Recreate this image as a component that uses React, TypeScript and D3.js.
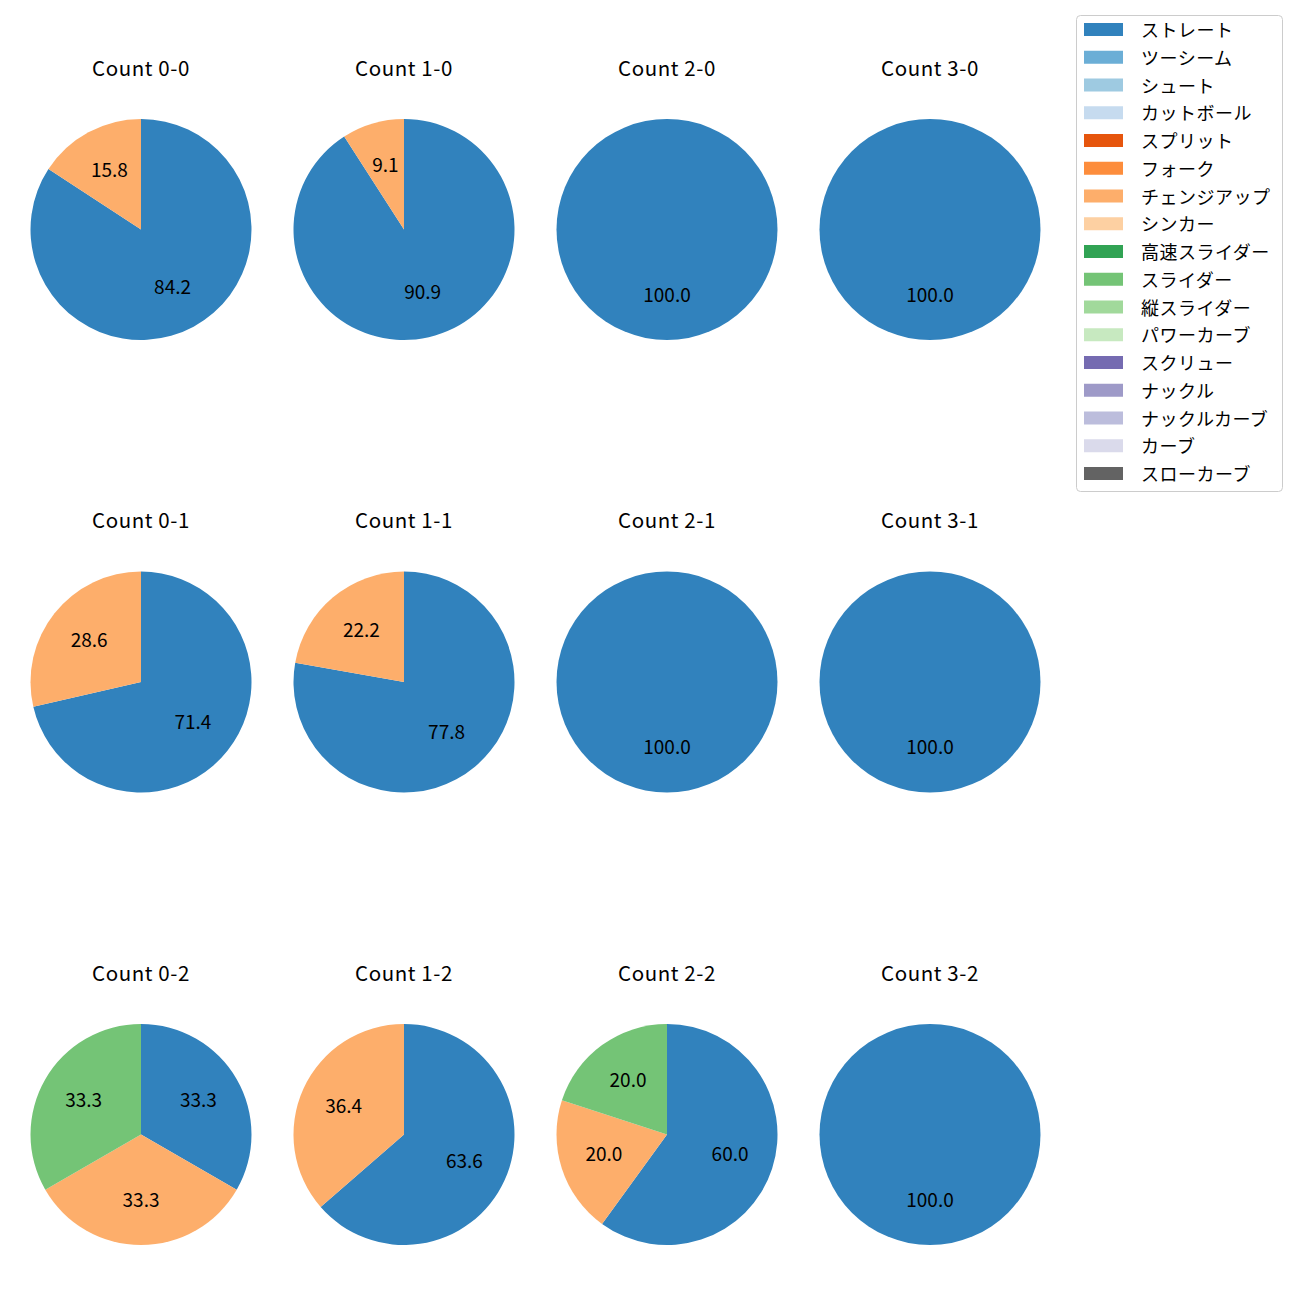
import React from "react";
import * as d3 from "d3";

const pitchTypes = [
  "ストレート", "ツーシーム", "シュート", "カットボール", "スプリット", "フォーク",
  "チェンジアップ", "シンカー", "高速スライダー", "スライダー", "縦スライダー",
  "パワーカーブ", "スクリュー", "ナックル", "ナックルカーブ", "カーブ", "スローカーブ",
];
const pitchColors = [
  "#3182bd", "#6baed6", "#9ecae1", "#c6dbef", "#e6550d", "#fd8d3c",
  "#fdae6b", "#fdd0a2", "#31a354", "#74c476", "#a1d99b", "#c7e9c0",
  "#756bb1", "#9e9ac8", "#bcbddc", "#dadaeb", "#636363",
];

const countTitles = [
  ["Count 0-0", "Count 1-0", "Count 2-0", "Count 3-0"],
  ["Count 0-1", "Count 1-1", "Count 2-1", "Count 3-1"],
  ["Count 0-2", "Count 1-2", "Count 2-2", "Count 3-2"],
];

// each slice: [pitch type, percentage]
const count00 = [["ストレート", 84.2], ["チェンジアップ", 15.8]];
const count10 = [["ストレート", 90.9], ["チェンジアップ", 9.1]];
const count20 = [["ストレート", 100.0]];
const count30 = [["ストレート", 100.0]];
const count01 = [["ストレート", 71.4], ["チェンジアップ", 28.6]];
const count11 = [["ストレート", 77.8], ["チェンジアップ", 22.2]];
const count21 = [["ストレート", 100.0]];
const count31 = [["ストレート", 100.0]];
const count02 = [["ストレート", 33.3], ["チェンジアップ", 33.3], ["スライダー", 33.3]];
const count12 = [["ストレート", 63.6], ["チェンジアップ", 36.4]];
const count22 = [["ストレート", 60.0], ["チェンジアップ", 20.0], ["スライダー", 20.0]];
const count32 = [["ストレート", 100.0]];

const panelData = [
  [count00, count10, count20, count30],
  [count01, count11, count21, count31],
  [count02, count12, count22, count32],
];

const FONT = "'Noto Sans CJK JP', 'Noto Sans', sans-serif";

export default function App() {
  const color = d3.scaleOrdinal<string, string>().domain(pitchTypes).range(pitchColors);
  const colX = d3.scalePoint<number>().domain([0, 1, 2, 3]).range([141, 930]);
  const rowY = d3.scalePoint<number>().domain([0, 1, 2]).range([229.5, 1134.5]);
  const R = 110.5;
  const pie = d3.pie<any>().sort(null).value((d: any) => d[1]);
  const arc = d3.arc<any>().innerRadius(0).outerRadius(R);
  const labelArc = d3.arc<any>().innerRadius(R * 0.6).outerRadius(R * 0.6);

  const legendY = d3.scalePoint<number>().domain(d3.range(pitchTypes.length)).range([29.5, 473.5]);

  return (
    <svg width={1300} height={1300} style={{ display: "block", position: "absolute", left: 0, top: 0 }} fontFamily={FONT}>
      <rect width={1300} height={1300} fill="#ffffff" />
      {panelData.map((row, ri) =>
        row.map((slices, ci) => {
          const cx = colX(ci)!;
          const cy = rowY(ri)!;
          const arcs = pie(slices as any);
          return (
            <g key={`${ri}-${ci}`}>
              <text x={cx} y={cy - 154} textAnchor="middle" fontSize={20.5} letterSpacing={0.6} fill="#000">
                {countTitles[ri][ci]}
              </text>
              <g transform={`translate(${cx},${cy})`}>
                {arcs.map((a, i) => (
                  <path key={i} d={arc(a) as string} fill={color(a.data[0])} />
                ))}
                {arcs.map((a, i) => {
                  const [lx, ly] = labelArc.centroid(a);
                  return (
                    <text key={`l${i}`} x={lx} y={ly - 2.5} textAnchor="middle" dominantBaseline="central" fontSize={19} fill="#000">
                      {(a.data[1] as number).toFixed(1)}
                    </text>
                  );
                })}
              </g>
            </g>
          );
        })
      )}
      <rect x={1076.5} y={15.5} width={206} height={476} rx={4} ry={4} fill="#fff" stroke="#cccccc" strokeWidth={1} />
      {pitchTypes.map((p, i) => (
        <g key={p}>
          <rect x={1084} y={legendY(i)! - 6.5} width={39} height={13} fill={color(p)} />
          <text x={1141} y={legendY(i)! - 0.5} dominantBaseline="central" fontSize={18} letterSpacing={0.5} fill="#000">
            {p}
          </text>
        </g>
      ))}
    </svg>
  );
}
